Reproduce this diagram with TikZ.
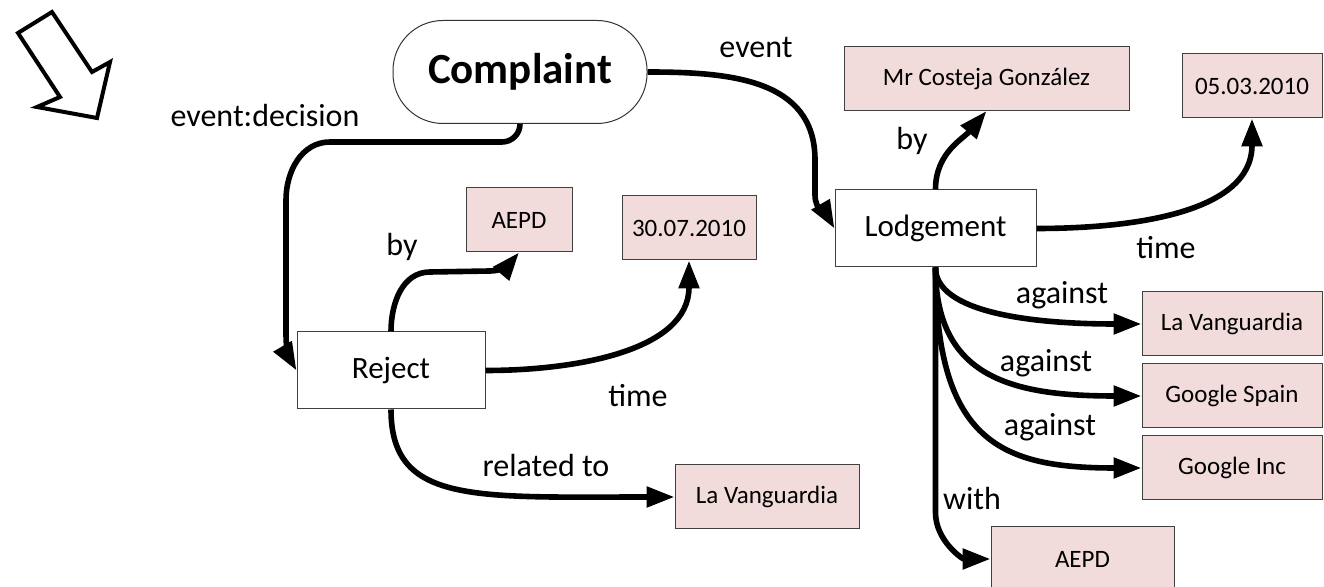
\documentclass[tikz,border=0pt]{standalone}
\usepackage{fontspec}
\setmainfont{Carlito}
\usepackage{tikz}
\usetikzlibrary{arrows.meta, positioning}
\definecolor{pinkfill}{HTML}{F2DCDB}

\begin{document}
\begin{tikzpicture}[x=0.5pt, y=-0.5pt,
  ent/.style={draw=black!75, fill=pinkfill, line width=0.5pt, minimum height=32pt, inner sep=0pt, font=\fontsize{12.5}{15}\selectfont},
  evt/.style={draw=black!75, fill=white, line width=0.5pt, minimum height=38.5pt, inner sep=0pt, font=\fontsize{15.5}{18}\selectfont},
  lbl/.style={inner sep=0pt, font=\fontsize{16}{19}\selectfont},
  conn/.style={line width=2.8pt, -{Triangle[length=14pt,width=10pt]}}]
\useasboundingbox (0,0) rectangle (1324,587);

% hollow arrow
\draw[line width=2pt, line join=miter] (18,33) -- (52,12) -- (92,72) -- (110,62) -- (97,118) -- (37,107) -- (60,97) -- cycle;

\node[draw=black!80, line width=0.5pt, rounded corners=25pt, minimum width=127pt, minimum height=51.5pt, inner sep=0pt, font=\bfseries\fontsize{21.5}{25}\selectfont] (complaint) at (520,72) {Complaint};

\node[evt, minimum width=94pt] (reject) at (391,370.5) {Reject};
\node[evt, minimum width=100.5pt] (lodge) at (935.5,228.5) {Lodgement};

\node[ent, minimum width=53pt] (aepdA) at (519,220) {AEPD};
\node[ent, minimum width=67pt] (dateA) at (689,228) {30.07.2010};
\node[ent, minimum width=92pt] (vangA) at (767,497) {La Vanguardia};
\node[ent, minimum width=142.5pt] (costeja) at (986.5,78.5) {Mr Costeja González};
\node[ent, minimum width=70pt] (dateB) at (1252,86) {05.03.2010};
\node[ent, minimum width=90pt] (vangB) at (1232,324) {La Vanguardia};
\node[ent, minimum width=90pt] (gspain) at (1232,396) {Google Spain};
\node[ent, minimum width=90pt] (ginc) at (1232,468) {Google Inc};
\node[ent, minimum width=91.5pt] (aepdB) at (1082.5,559) {AEPD};

% edge labels
\node[lbl] (lDecision) at (265,116) {event:decision};
\node[lbl] (lEvent) at (756,48) {event};
\node[lbl] (lByA) at (402,247) {by};
\node[lbl] (lTimeA) at (638,396) {time};
\node[lbl] (lRelated) at (546,466) {related to};
\node[lbl] (lByB) at (912,141) {by};
\node[lbl] (lTimeB) at (1166,248) {time};
\node[lbl] (lAgainstA) at (1062,295) {against};
\node[lbl] (lAgainstB) at (1046,363) {against};
\node[lbl] (lAgainstC) at (1050,427) {against};
\node[lbl] (lWith) at (972,499) {with};

% connectors
\draw[conn] (complaint.south) to[out=-90,in=0] (502,142) -- (330,142) to[out=180,in=90] (286,200) -- (286,335) to[out=-90,in=120] (reject.west);
\draw[conn] (complaint.east) to[out=0,in=90,looseness=1.1] (815,160) -- (815,195) to[out=-90,in=120] (lodge.west);
\draw[conn] (reject.north) to[out=90,in=180] (430,272) -- (490,271) to[out=0,in=-130] (aepdA.south);
\draw[conn] (reject.east) to[out=0,in=-90] (dateA.south);
\draw[conn] (reject.south) .. controls +(0,95) and +(-200,0) .. (vangA.west);
\draw[conn] (lodge.north) to[out=90,in=-130] (costeja.south);
\draw[conn] (lodge.east) to[out=0,in=-90] (dateB.south);
\draw[conn] (lodge.south) .. controls +(0,45) and +(-110,0) .. (vangB.west);
\draw[conn] (lodge.south) .. controls +(0,110) and +(-130,0) .. (gspain.west);
\draw[conn] (lodge.south) .. controls +(0,175) and +(-140,0) .. (ginc.west);
\draw[conn] (lodge.south) -- ++(0,245) to[out=-90,in=180] (aepdB.west);
\end{tikzpicture}
\end{document}
